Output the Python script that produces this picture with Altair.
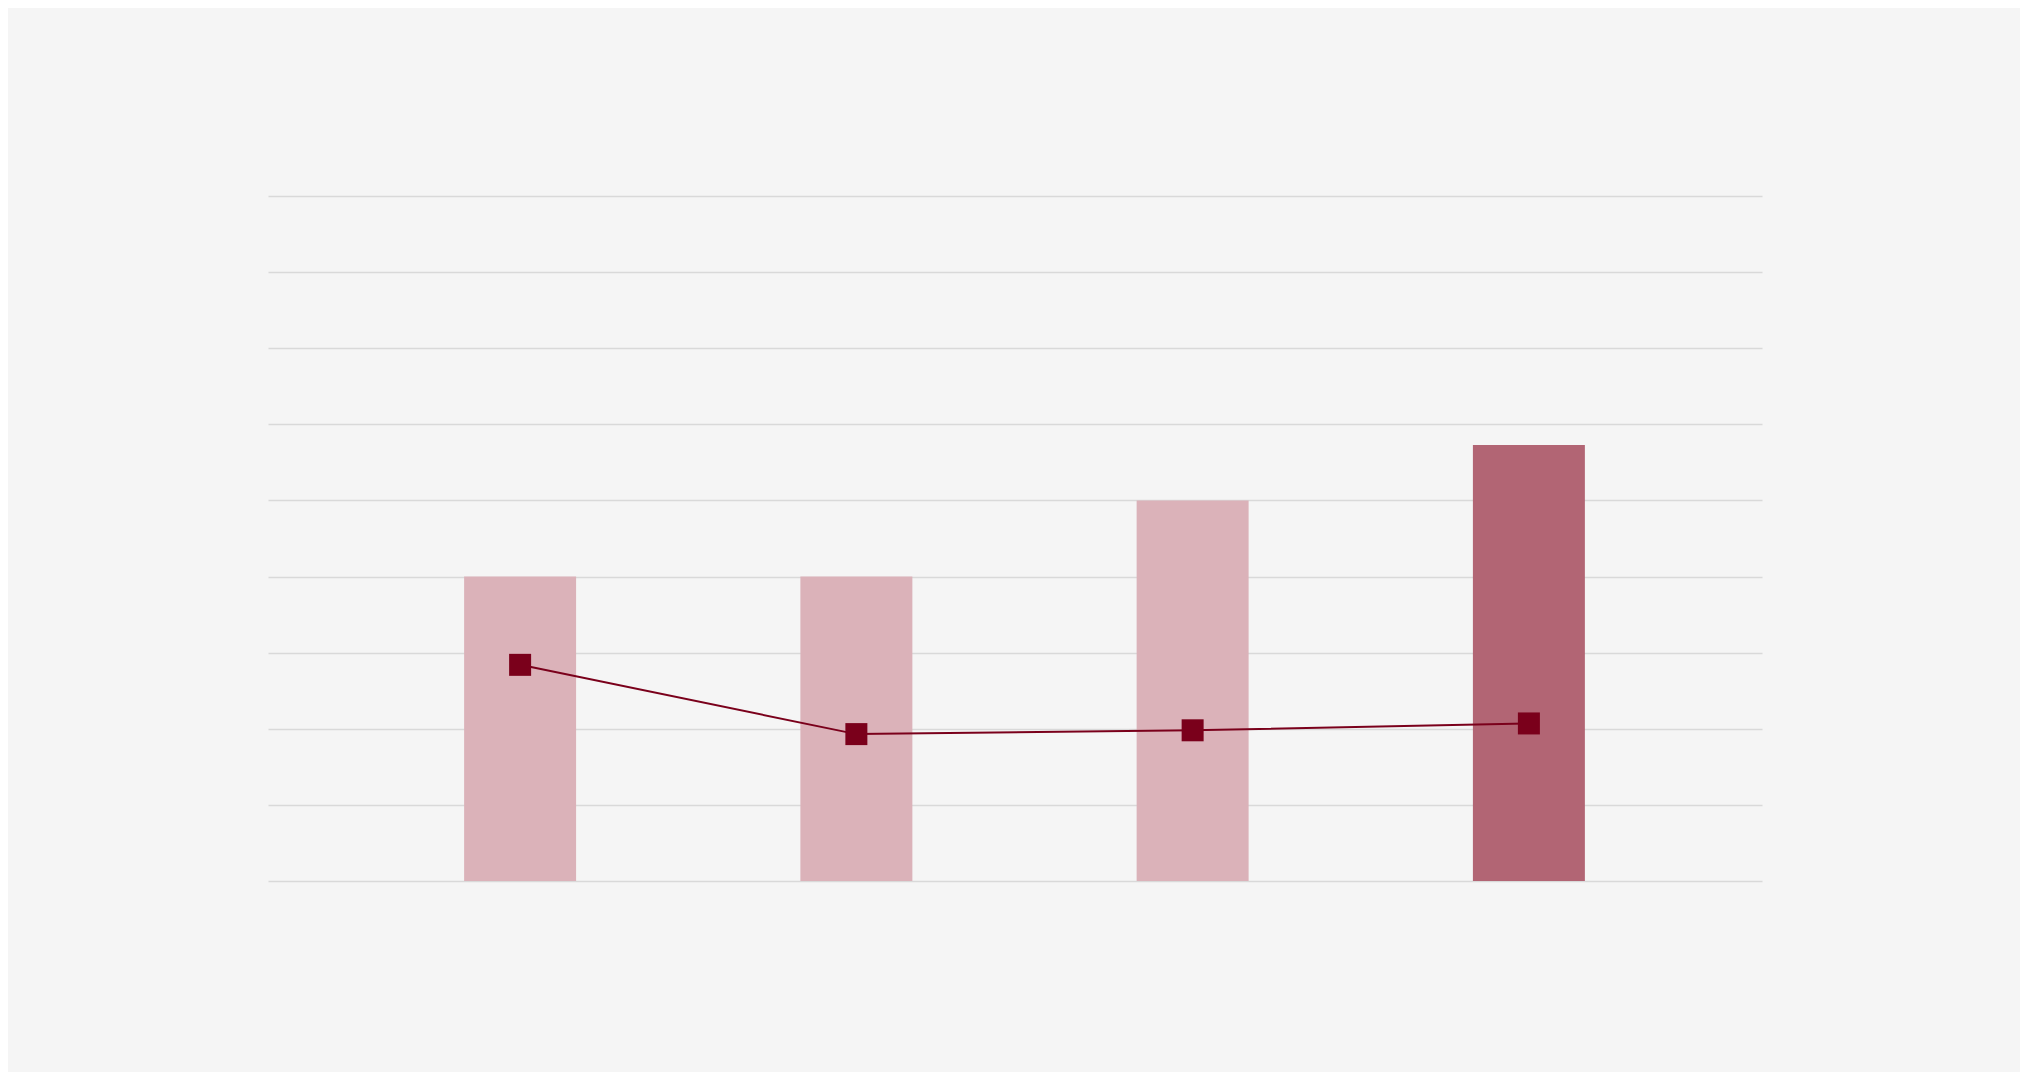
import altair as alt
import pandas as pd

categories = ["Q1", "Q2", "Q3", "Q4"]
bar_values = [4.0, 4.0, 5.0, 5.73]
line_values = [2.84, 1.93, 1.98, 2.07]
highlight = "Q4"

df = pd.DataFrame({"category": categories, "bar": bar_values, "line": line_values})

LIGHT = "#dbb2b9"
DARK = "#b26574"
LINE = "#7a001b"
BG = "#f5f5f5"
GRID = "#d9d9d9"
SHIFT = 9.5

x_enc = alt.X(
    "category:N",
    sort=categories,
    scale=alt.Scale(paddingInner=0.667, paddingOuter=0.555),
    axis=None,
)

y_scale = alt.Scale(domain=[0, 9], nice=False)
y_axis = alt.Axis(
    values=list(range(0, 10)),
    labels=False,
    ticks=False,
    domain=False,
    grid=True,
    gridColor=GRID,
    gridWidth=1.6,
    title=None,
)

bars = alt.Chart(df).mark_bar(xOffset=SHIFT).encode(
    x=x_enc,
    y=alt.Y("bar:Q", scale=y_scale, axis=y_axis),
    color=alt.condition(alt.datum.category == highlight, alt.value(DARK), alt.value(LIGHT)),
)

line = alt.Chart(df).mark_line(color=LINE, strokeWidth=2, xOffset=SHIFT).encode(
    x=x_enc,
    y=alt.Y("line:Q", scale=y_scale),
)

points = alt.Chart(df).mark_point(
    shape="square", filled=True, size=484, color=LINE, opacity=1, xOffset=SHIFT
).encode(
    x=x_enc,
    y=alt.Y("line:Q", scale=y_scale),
)

chart = (
    alt.layer(bars, line, points)
    .properties(
        width=1494,
        height=685,
        autosize=alt.AutoSizeParams(type="none"),
        padding={"left": 260, "top": 188, "right": 258, "bottom": 191},
        background=BG,
    )
    .configure_view(stroke=None)
)

chart.save("out.html", embed_options={"renderer": "svg", "actions": False})
